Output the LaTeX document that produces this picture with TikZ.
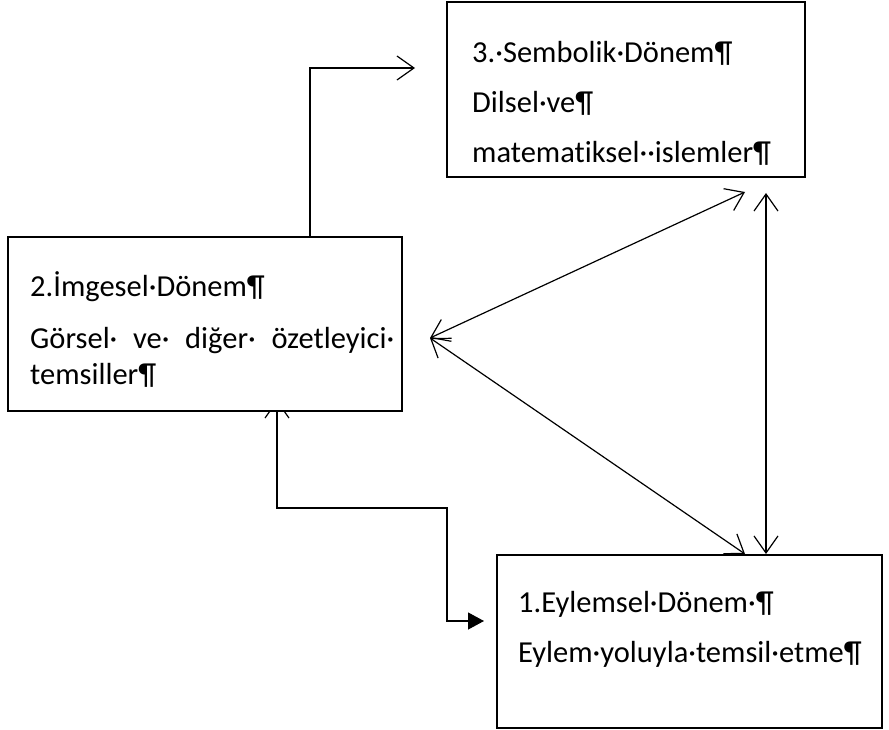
\documentclass[tikz,border=0pt]{standalone}
\usepackage{fontspec}
\setmainfont[Ligatures=NoCommon]{Carlito}
\usetikzlibrary{arrows.meta}
\begin{document}
\begin{tikzpicture}[x=1pt,y=-1pt,
  box/.style={draw, fill=white, line width=1.3pt, inner sep=0pt},
  txt/.style={anchor=base west, inner sep=0pt, font=\fontsize{30.5}{36}\selectfont},
  conn/.style={line width=1.2pt},
  barb/.tip={Straight Barb[length=17pt,width=24pt,line width=1.2pt]},
  tri/.tip={Triangle[length=16pt,width=17pt]}]
\useasboundingbox (0,0) rectangle (889,730);
% connector coordinates
\coordinate (up) at (310,237);
\coordinate (upend) at (415,68);
\coordinate (dn) at (277,400);
\coordinate (dnend) at (484,621);
\coordinate (hub) at (430,338);
\coordinate (e3) at (745,192);
\coordinate (e1) at (745,554);
\coordinate (v3) at (766,193);
\coordinate (v1) at (766,554);
% connectors
\draw[conn, -{barb}] (up) |- (upend);
\draw[conn, {barb}-{tri}] (dn) -- (277,508) -- (447,508) -- (447,621) -- (dnend);
\draw[conn, {barb}-{barb}] (hub) -- (e3);
\draw[conn, {barb}-{barb}] (hub) -- (e1);
\draw[conn, {barb}-{barb}] (v3) -- (v1);
% boxes
\node[box, minimum width=358pt, minimum height=175pt] (b3) at (626,89.5) {};
\node[box, minimum width=394pt, minimum height=174pt] (b2) at (205,324) {};
\node[box, minimum width=385pt, minimum height=173pt] (b1) at (689.5,641.5) {};
% texts
\node[txt] (t31) at (472,63) {3.·Sembolik·Dönem¶};
\node[txt] (t32) at (472,113) {Dilsel·ve¶};
\node[txt] (t33) at (472,163) {matematiksel··islemler¶};
\node[txt] (t21) at (30,296) {2.İmgesel·Dönem¶};
\node[txt] (t22) at (30,348) {\hbox to 364pt{Görsel·\hfill ve·\hfill diğer·\hfill özetleyici·}};
\node[txt] (t23) at (30,384) {temsiller¶};
\node[txt] (t11) at (518,612) {1.Eylemsel·Dönem·¶};
\node[txt] (t12) at (518,662) {Eylem·yoluyla·temsil·etme¶};
\end{tikzpicture}
\end{document}
